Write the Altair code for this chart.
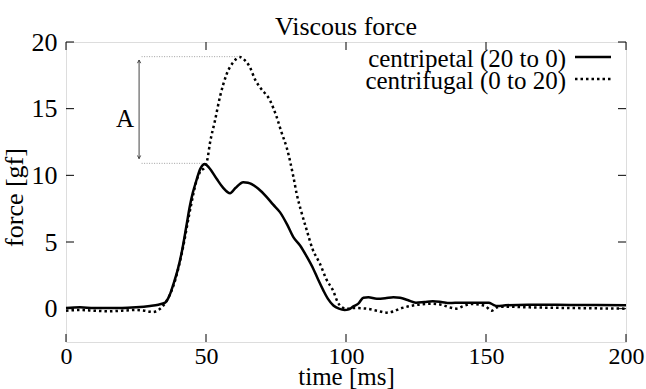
import altair as alt
import pandas as pd

# ---------------- data ----------------
series_names = ["centripetal (20 to 0)", "centrifugal (0 to 20)"]

t_cp = [0, 5, 10, 15, 20, 25, 30, 33, 35.4, 37, 38.3, 40, 41.3, 43, 44.2, 45.3, 46.4, 48, 49.6,
        51, 53.8, 56, 58.6, 60.5, 63.3, 65, 68.7, 71.7, 74, 76.4, 79, 81.2, 83.6, 86, 88.3, 90,
        91.9, 93.5, 95.5, 97.5, 99.5, 101, 102.5, 104.5, 106.2, 108, 111, 114, 116.9, 119.3, 122,
        125, 128, 131, 134, 137, 141, 145, 149, 151, 152.5, 154, 157, 165, 180, 200]
f_cp = [0.05, 0.1, 0.05, 0.05, 0.05, 0.1, 0.2, 0.3, 0.45, 1.0, 1.8, 3.0, 4.2, 6.2, 7.66, 8.7, 9.5,
        10.5, 10.85, 10.6, 9.74, 9.1, 8.66, 9.05, 9.49, 9.45, 9.0, 8.37, 7.8, 7.24, 6.3, 5.36, 4.74,
        3.9, 3.0, 2.2, 1.37, 0.75, 0.24, 0.0, -0.1, -0.05, 0.15, 0.4, 0.82, 0.85, 0.74, 0.78, 0.86,
        0.82, 0.65, 0.45, 0.5, 0.55, 0.5, 0.42, 0.45, 0.45, 0.45, 0.45, 0.3, 0.2, 0.25, 0.3, 0.28, 0.25]

t_cf = [0, 5, 10, 15, 20, 25, 28, 31, 33, 35, 36.5, 38.5, 41.5, 44.5, 46.5, 48, 49.5, 50.5, 51.4,
        53.2, 55, 57.4, 59.8, 62.1, 63.5, 65.7, 67.5, 69.3, 72.9, 75.2, 77, 78.8, 81.2, 82.4, 84,
        86, 88, 90.7, 93, 95.5, 97, 98.5, 100, 103, 107.4, 111, 114.5, 117, 119.3, 123, 126, 130,
        134, 137, 139.5, 142, 145, 148, 150, 152, 154, 157, 165, 180, 200]
f_cf = [-0.15, -0.1, -0.15, -0.2, -0.15, -0.1, -0.15, -0.25, -0.1, 0.3, 0.8, 1.8, 4.3, 7.6, 9.5,
        10.3, 10.6, 11.2, 12.4, 14.1, 15.9, 17.6, 18.5, 18.87, 18.7, 18.1, 17.2, 16.6, 15.6, 14.4,
        13.2, 12.1, 9.9, 8.6, 7.3, 5.87, 4.5, 3.37, 2.2, 1.3, 0.5, 0.11, 0.0, 0.05, 0.0, -0.15,
        -0.3, -0.2, 0.0, 0.2, 0.3, 0.37, 0.3, 0.1, 0.0, 0.2, 0.35, 0.3, 0.15, -0.15, 0.1, 0.15,
        0.1, 0.05, 0.0]

x_ticks = [0, 50, 100, 150, 200]
y_ticks = [0, 5, 10, 15, 20]

guide_start = [27.0, 27.0]
guide_end = [62.1, 49.0]
guide_level = [18.9, 10.9]
arrow_t = [26.1]
arrow_lo = [11.25]
arrow_hi = [18.65]
note_text = ["A"]
note_t = [21.1]
note_v = [14.2]

# ---------------- chart ----------------
W, H = 560, 300
FONT = "Liberation Serif"
FS = 26
xs = alt.Scale(domain=[0, 200], nice=False, zero=False)
ys = alt.Scale(domain=[-2.5, 20], nice=False, zero=False)

x_axis = alt.Axis(values=x_ticks, ticks=False, domain=False, grid=False, labelFont=FONT,
                  labelFontSize=24, labelPadding=2, labelColor="black", labelFlush=False,
                  title="time [ms]", titleFont=FONT, titleFontSize=25, titleFontWeight="normal",
                  titleColor="black", titleY=42.5, titleBaseline="alphabetic")
y_axis = alt.Axis(values=y_ticks, ticks=False, domain=False, grid=False, labelFont=FONT,
                  labelFontSize=FS, labelPadding=9, labelColor="black", labelFlush=False,
                  title="force [gf]", titleFont=FONT, titleFontSize=FS, titleFontWeight="normal",
                  titleColor="black", titleX=-39, titleY=155, titleAlign="center",
                  titleBaseline="bottom")

cp = pd.DataFrame({"t": t_cp, "f": f_cp})
cf = pd.DataFrame({"t": t_cf, "f": f_cf})

X = alt.X("t:Q", scale=xs, axis=x_axis)
Y = alt.Y("f:Q", scale=ys, axis=y_axis)

line_cp = alt.Chart(cp).mark_line(color="black", strokeWidth=2.5, interpolate="monotone").encode(x=X, y=Y)
line_cf = alt.Chart(cf).mark_line(color="black", strokeWidth=2.5, strokeDash=[2.5, 3],
                                  interpolate="monotone").encode(x=X, y=Y)

xt = pd.DataFrame({"t": x_ticks})
yt = pd.DataFrame({"f": y_ticks})
tick_b = alt.Chart(xt).mark_rule(color="black", strokeWidth=1).encode(x=X, y=alt.value(H), y2=alt.value(H - 8))
tick_t = alt.Chart(xt).mark_rule(color="black", strokeWidth=1).encode(x=X, y=alt.value(0), y2=alt.value(8))
tick_l = alt.Chart(yt).mark_rule(color="black", strokeWidth=1).encode(y=Y, x=alt.value(0), x2=alt.value(8))
tick_r = alt.Chart(yt).mark_rule(color="black", strokeWidth=1).encode(y=Y, x=alt.value(W), x2=alt.value(W - 8))

gd = pd.DataFrame({"t": guide_start, "t2": guide_end, "f": guide_level})
guides = alt.Chart(gd).mark_rule(color="#a0a0a0", strokeWidth=1, strokeDash=[1, 1.5]).encode(
    x=X, x2="t2:Q", y=Y)

ad = pd.DataFrame({"t": arrow_t, "f": arrow_lo, "f2": arrow_hi})
arrow = alt.Chart(ad).mark_rule(color="#444444", strokeWidth=1).encode(x=X, y=Y, y2="f2:Q")
head_up = alt.Chart(pd.DataFrame({"t": arrow_t, "f": arrow_hi})).mark_point(
    shape="M -0.5 1 L 0 0 L 0.5 1", filled=False, color="#444444", size=40, strokeWidth=1, opacity=1
).encode(x=X, y=Y)
head_dn = alt.Chart(pd.DataFrame({"t": arrow_t, "f": arrow_lo})).mark_point(
    shape="M -0.5 -1 L 0 0 L 0.5 -1", filled=False, color="#444444", size=40, strokeWidth=1, opacity=1
).encode(x=X, y=Y)

note = alt.Chart(pd.DataFrame({"t": note_t, "f": note_v, "txt": note_text})).mark_text(
    font=FONT, fontSize=25, color="black", align="center", baseline="middle").encode(x=X, y=Y, text="txt:N")

# legend (gnuplot style: text then sample on the right)
leg_layers = []
leg_y = [15, 37]
for i, name in enumerate(series_names):
    d = pd.DataFrame({"name": [name]})
    leg_layers.append(alt.Chart(d).mark_text(font=FONT, fontSize=25, color="black", align="right",
                                             baseline="middle").encode(
        text="name:N", x=alt.value(500), y=alt.value(leg_y[i] + 2)))
    kw = dict(color="black", strokeWidth=2.5)
    if i == 1:
        kw["strokeDash"] = [2.5, 3]
    leg_layers.append(alt.Chart(d).mark_rule(**kw).encode(
        x=alt.value(509), x2=alt.value(545), y=alt.value(leg_y[i])))

chart = alt.layer(line_cp, line_cf, tick_b, tick_t, tick_l, tick_r, guides, arrow, head_up, head_dn,
                  note, *leg_layers).properties(
    width=W, height=H,
    title=alt.TitleParams("Viscous force", font=FONT, fontSize=FS, fontWeight="normal", color="black",
                          offset=-11),
    autosize=alt.AutoSizeParams(type="none"),
    padding={"left": 66, "top": 42, "right": 20, "bottom": 47},
).configure_view(stroke="black", strokeWidth=1).configure(background="white")

chart.save("out.html", embed_options={"renderer": "svg", "actions": False})
